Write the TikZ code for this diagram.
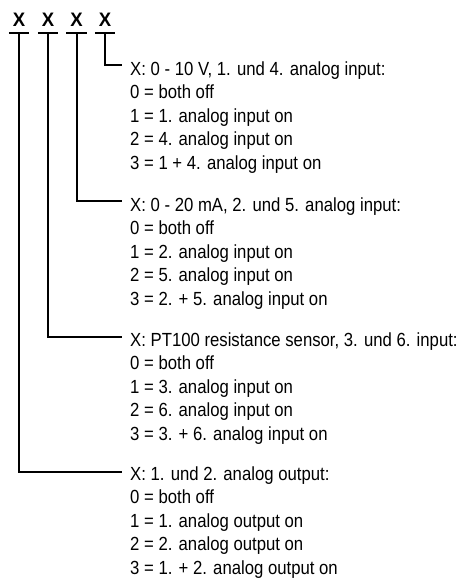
\documentclass[tikz,border=0pt]{standalone}
\usepackage{fontspec}
\setmainfont{Liberation Sans}[FakeStretch=0.88]
\newfontfamily\codefont{Liberation Sans}[FakeStretch=0.95]
\begin{document}
\begin{tikzpicture}[x=1pt,y=-1pt,
  lead/.style={line width=2pt},
  lbl/.style={anchor=base west, inner sep=0pt, font=\fontsize{19}{23.6}\selectfont},
  digit/.style={anchor=base, inner sep=0pt, text depth=0pt, minimum width=20pt, font=\codefont\bfseries\fontsize{19.5}{23}\selectfont}]
\useasboundingbox (0,0) rectangle (462,579);
% code letters
\node[digit] (d1) at (19,26.5) {X};
\node[digit] (d2) at (48,26.5) {X};
\node[digit] (d3) at (76.5,26.5) {X};
\node[digit] (d4) at (105,26.5) {X};
\foreach \d in {d1,d2,d3,d4}{
  \draw[lead] ([yshift=-6.5pt]\d.south west) -- ([yshift=-6.5pt]\d.south east);
}
% connector ends
\coordinate (e1) at (122,65);
\coordinate (e2) at (122,201);
\coordinate (e3) at (122,337);
\coordinate (e4) at (122,472);
\draw[lead] ([yshift=-6.5pt]d4.south) |- (e1);
\draw[lead] ([yshift=-6.5pt]d3.south) |- (e2);
\draw[lead] ([yshift=-6.5pt]d2.south) |- (e3);
\draw[lead] ([yshift=-6.5pt]d1.south) |- (e4);
% block 1
\node[lbl] (a0) at (130,75) {X: 0 - 10 V, 1. und 4. analog input:};
\node[lbl] (a1) at (130,98.6) {0 = both off};
\node[lbl] (a2) at (130,122.2) {1 = 1. analog input on};
\node[lbl] (a3) at (130,145.8) {2 = 4. analog input on};
\node[lbl] (a4) at (130,169.4) {3 = 1 + 4. analog input on};
% block 2
\node[lbl] (b0) at (130,211) {X: 0 - 20 mA, 2. und 5. analog input:};
\node[lbl] (b1) at (130,234.6) {0 = both off};
\node[lbl] (b2) at (130,258.2) {1 = 2. analog input on};
\node[lbl] (b3) at (130,281.8) {2 = 5. analog input on};
\node[lbl] (b4) at (130,305.4) {3 = 2. + 5. analog input on};
% block 3
\node[lbl] (c0) at (130,346) {X: PT100 resistance sensor, 3. und 6. input:};
\node[lbl] (c1) at (130,369.6) {0 = both off};
\node[lbl] (c2) at (130,393.2) {1 = 3. analog input on};
\node[lbl] (c3) at (130,416.8) {2 = 6. analog input on};
\node[lbl] (c4) at (130,440.4) {3 = 3. + 6. analog input on};
% block 4
\node[lbl] (f0) at (130,480) {X: 1. und 2. analog output:};
\node[lbl] (f1) at (130,503.6) {0 = both off};
\node[lbl] (f2) at (130,527.2) {1 = 1. analog output on};
\node[lbl] (f3) at (130,550.8) {2 = 2. analog output on};
\node[lbl] (f4) at (130,574.4) {3 = 1. + 2. analog output on};
\end{tikzpicture}
\end{document}
